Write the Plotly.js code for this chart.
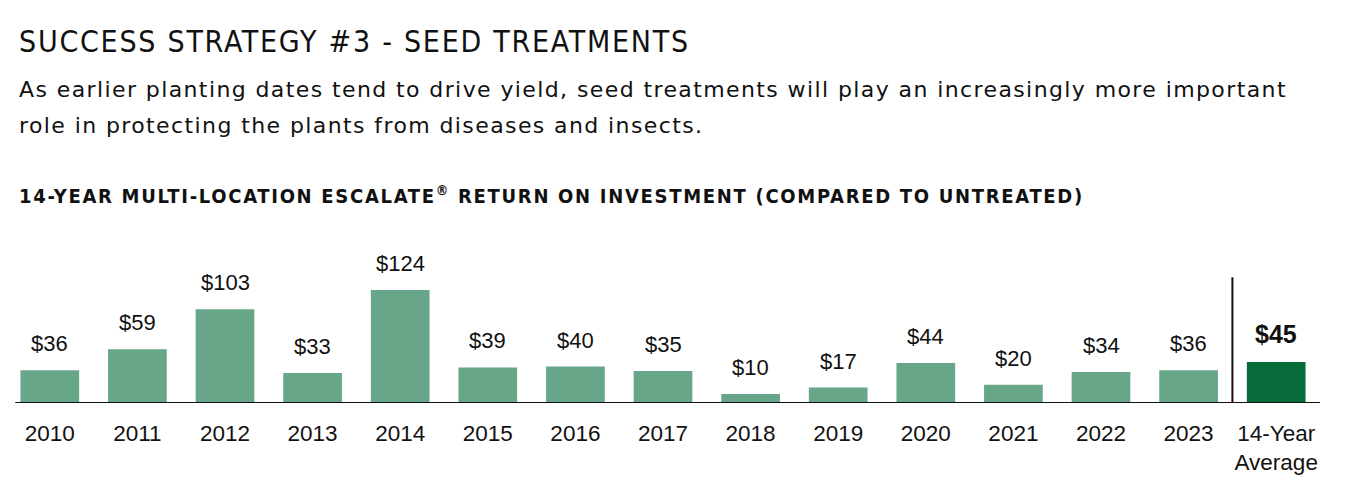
<!DOCTYPE html>
<html>
<head>
<meta charset="utf-8">
<script src="https://cdn.plot.ly/plotly-3.0.1.min.js"></script>
<style>
html,body{margin:0;padding:0;background:#fff;}
#chart{width:1346px;height:504px;}
.annotation[data-index="15"] text{letter-spacing:1.75px;}
.annotation[data-index="16"] text,.annotation[data-index="17"] text{letter-spacing:1.4px;}
.annotation[data-index="18"] text{letter-spacing:1.7px;}
</style>
</head>
<body>
<div id="chart"></div>
<script>
// ---- data ----
const categories = ["2010","2011","2012","2013","2014","2015","2016","2017","2018","2019","2020","2021","2022","2023","14-Year<br>Average"];
const values = [36,59,103,33,124,39,40,35,10,17,44,20,34,36,45];
const valueLabels = ["$36","$59","$103","$33","$124","$39","$40","$35","$10","$17","$44","$20","$34","$36","$45"];
const mainTitle = "SUCCESS STRATEGY #3 - SEED TREATMENTS";
const subtitleLines = ["As earlier planting dates tend to drive yield, seed treatments will play an increasingly more important",
                       "role in protecting the plants from diseases and insects."];
const chartTitle = "14-YEAR MULTI-LOCATION ESCALATE<sup>®</sup> RETURN ON INVESTMENT (COMPARED TO UNTREATED)";

const lightGreen = "#67a688";
const darkGreen = "#076b3a";
const nYears = categories.length - 1;

const colors = categories.map((c,i)=> i===nYears ? darkGreen : lightGreen);

const trace = {
  type: "bar",
  x: categories,
  y: values,
  marker: {color: colors, line: {width: 0}},
  hoverinfo: "skip",
  showlegend: false
};

const labelFont = "'Liberation Sans', Arial, sans-serif";
const condensed = "'DejaVu Sans Condensed', 'Liberation Sans', sans-serif";

const layout = {
  width: 1346, height: 504,
  margin: {l: 6, r: 26, t: 239, b: 101},
  paper_bgcolor: "#fff", plot_bgcolor: "#fff",
  bargap: 0.33,
  xaxis: {
    type: "category", range: [-0.5, nYears + 0.5],
    showgrid: false, zeroline: false, showline: false,
    ticks: "", ticklabelstandoff: 14,
    tickfont: {family: labelFont, size: 22.5, color: "#111"},
    fixedrange: true
  },
  yaxis: {
    range: [0, 180], showgrid: false, zeroline: false, showline: false,
    showticklabels: false, ticks: "", fixedrange: true
  },
  shapes: [
    {type: "line", xref: "x", yref: "y", x0: -0.394, x1: nYears + 0.5, y0: 0, y1: 0,
     line: {color: "#111", width: 2}},
    {type: "line", xref: "x", yref: "y", x0: nYears - 0.5, x1: nYears - 0.5, y0: 0, y1: 138,
     line: {color: "#111", width: 2}}
  ],
  annotations: []
};
const annotations = layout.annotations;

// value labels above bars (x by category index)
categories.forEach((c,i)=>{
  const isAvg = i===nYears;
  annotations.push({
    x: i, y: values[i], xref: "x", yref: "y",
    text: isAvg ? "<b>"+valueLabels[i]+"</b>" : valueLabels[i],
    showarrow: false, yanchor: "bottom", yshift: 12,
    font: {family: labelFont, size: isAvg ? 25 : 22, color: "#111"}
  });
});

// titles placed at pixel positions via paper coords
function py(px){ return 1 - (px - layout.margin.t) / (layout.height - layout.margin.t - layout.margin.b); }
function pxX(px){ return (px - layout.margin.l) / (layout.width - layout.margin.l - layout.margin.r); }

annotations.push({
  xref: "paper", yref: "paper", x: pxX(17), y: py(41), xanchor: "left", yanchor: "middle", align: "left",
  text: mainTitle, showarrow: false,
  font: {family: condensed, size: 30, color: "#111"}
});
annotations.push({
  xref: "paper", yref: "paper", x: pxX(17), y: py(90), xanchor: "left", yanchor: "middle", align: "left",
  text: subtitleLines[0], showarrow: false,
  font: {family: "'DejaVu Sans', sans-serif", size: 22, color: "#111"}
});
annotations.push({
  xref: "paper", yref: "paper", x: pxX(17), y: py(125), xanchor: "left", yanchor: "middle", align: "left",
  text: subtitleLines[1], showarrow: false,
  font: {family: "'DejaVu Sans', sans-serif", size: 22, color: "#111"}
});
annotations.push({
  xref: "paper", yref: "paper", x: pxX(17), y: py(195), xanchor: "left", yanchor: "middle", align: "left",
  text: "<b>" + chartTitle + "</b>", showarrow: false,
  font: {family: condensed, size: 20, color: "#111"}
});

Plotly.newPlot("chart", [trace], layout, {displayModeBar: false, staticPlot: true});
</script>
</body>
</html>
